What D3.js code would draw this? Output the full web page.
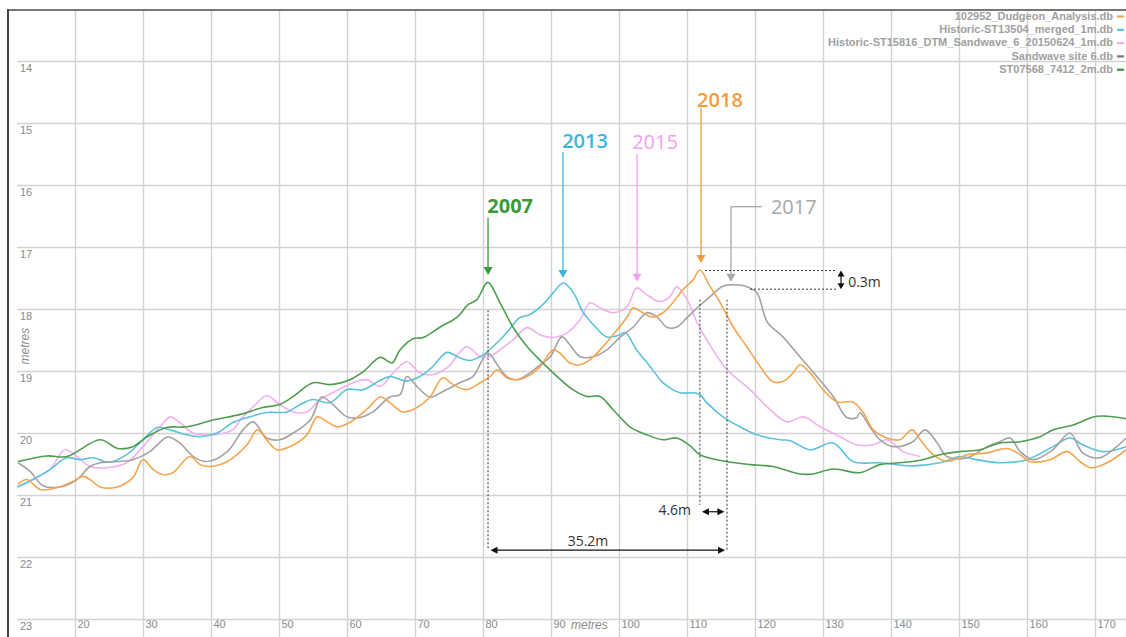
<!DOCTYPE html>
<html><head><meta charset="utf-8">
<script src="https://cdn.jsdelivr.net/npm/d3@7"></script>
<style>
html,body{margin:0;padding:0;background:#fff;}
svg{display:block;}
</style></head>
<body><svg id="c" width="1126" height="637"></svg>
<script>
// ---------- data ----------
const xTickValues = [20,30,40,50,60,70,80,90,100,110,120,130,140,150,160,170];
const yTickValues = [14,15,16,17,18,19,20,21,22,23];
const legendNames = ["102952_Dudgeon_Analysis.db","Historic-ST13504_merged_1m.db","Historic-ST15816_DTM_Sandwave_6_20150624_1m.db","Sandwave site 6.db","ST07568_7412_2m.db"];
const yearLabels = ["2018","2013","2015","2017","2007"];

const dudgeon2018 = [[11.6,20.83],[12.9,20.75],[14.9,20.91],[17.4,20.88],[19.7,20.78],[21.2,20.70],[22.2,20.75],[23.7,20.87],[26.2,20.87],[28.5,20.72],[30.0,20.43],[31.5,20.59],[32.9,20.67],[34.4,20.64],[36.9,20.38],[38.4,20.51],[39.9,20.54],[42.4,20.46],[45.3,20.19],[46.8,19.95],[48.2,20.11],[49.7,20.27],[51.6,20.22],[54.1,20.03],[55.6,19.74],[57.1,19.82],[58.5,19.90],[60.4,19.83],[62.9,19.62],[64.9,19.42],[66.3,19.51],[68.2,19.66],[70.3,19.59],[72.2,19.42],[74.1,19.11],[75.6,19.22],[77.6,19.30],[79.6,19.19],[81.0,19.09],[82.1,18.98],[83.5,19.11],[85.0,19.14],[86.5,19.09],[88.4,18.93],[90.3,18.66],[91.3,18.71],[92.8,18.87],[94.3,18.90],[95.7,18.82],[97.2,18.66],[99.1,18.42],[101.2,18.13],[102.1,17.98],[103.5,18.06],[105.0,18.13],[106.5,18.06],[107.9,17.90],[109.4,17.69],[110.9,17.53],[111.9,17.37],[113.4,17.64],[114.9,17.90],[116.8,18.29],[118.8,18.61],[120.7,18.92],[122.6,19.17],[124.1,19.17],[125.6,19.03],[126.6,18.90],[128.1,19.03],[130.0,19.30],[132.1,19.50],[134.4,19.50],[135.9,19.67],[137.4,19.95],[139.4,20.08],[141.3,20.11],[143.1,19.95],[144.3,20.11],[146.2,20.35],[148.2,20.46],[151.2,20.35],[154.1,20.32],[157.1,20.25],[159.0,20.35],[160.4,20.46],[163.4,20.43],[165.9,20.30],[167.8,20.46],[169.3,20.56],[171.8,20.48],[174.6,20.27]];

const merged2013 = [[11.5,20.87],[13.8,20.75],[16.3,20.59],[18.8,20.40],[20.7,20.43],[22.6,20.40],[25.1,20.47],[27.6,20.35],[30.0,20.11],[32.1,19.91],[34.0,19.95],[36.5,20.03],[38.4,20.06],[40.9,20.00],[43.2,19.83],[45.7,19.74],[48.2,19.67],[51.2,19.66],[53.1,19.54],[55.0,19.46],[57.5,19.51],[60.0,19.30],[62.4,19.30],[64.9,19.15],[66.3,19.09],[68.8,19.16],[70.7,19.09],[72.6,18.93],[74.7,18.70],[76.6,18.79],[78.1,18.83],[80.0,18.74],[82.1,18.54],[83.5,18.38],[85.4,18.14],[86.9,18.09],[88.8,17.93],[90.3,17.74],[91.8,17.58],[93.2,17.72],[94.7,18.05],[96.2,18.25],[98.2,18.45],[100.1,18.42],[100.9,18.38],[102.6,18.66],[104.6,18.93],[106.5,19.19],[109.0,19.35],[110.9,19.35],[111.9,19.38],[112.9,19.51],[115.3,19.74],[117.8,19.90],[120.3,20.03],[123.7,20.11],[125.1,20.12],[128.1,20.27],[131.5,20.16],[134.4,20.46],[138.4,20.48],[143.2,20.53],[147.2,20.48],[150.1,20.38],[152.6,20.43],[156.0,20.48],[160.0,20.43],[163.8,20.22],[166.3,20.08],[168.2,20.19],[171.2,20.30],[174.6,20.22]];

const sandwave2015 = [[11.6,20.87],[13.8,20.75],[16.3,20.59],[18.5,20.27],[20.3,20.38],[22.2,20.54],[24.7,20.56],[27.6,20.48],[30.0,20.22],[32.5,19.90],[34.0,19.74],[35.4,19.83],[37.4,20.00],[40.3,20.03],[43.2,19.95],[44.3,19.79],[46.2,19.58],[48.2,19.40],[50.1,19.54],[52.1,19.66],[54.1,19.66],[56.0,19.46],[57.9,19.35],[60.9,19.19],[62.9,19.14],[64.9,19.25],[66.8,19.03],[68.8,18.85],[70.7,19.03],[72.6,19.06],[74.7,18.95],[77.6,18.61],[79.6,18.77],[81.0,18.77],[82.5,18.66],[84.4,18.50],[86.5,18.30],[88.4,18.42],[90.3,18.46],[92.4,18.38],[94.3,18.17],[95.7,17.90],[97.2,17.98],[99.1,18.06],[101.2,17.96],[102.6,17.66],[104.1,17.77],[106.0,17.88],[107.5,17.80],[108.5,17.64],[110.0,17.85],[111.5,18.22],[113.4,18.59],[115.9,18.98],[119.3,19.30],[121.8,19.58],[124.7,19.82],[127.1,19.74],[129.6,19.90],[132.5,20.06],[135.0,20.19],[137.4,20.19],[139.4,20.11],[141.8,20.30],[144.3,20.38]];

const site2017 = [[11.6,20.48],[13.4,20.62],[15.3,20.85],[17.8,20.87],[20.3,20.75],[22.2,20.54],[23.7,20.48],[26.2,20.46],[28.5,20.43],[31.0,20.30],[32.9,20.11],[33.7,20.06],[35.4,20.16],[37.4,20.38],[39.4,20.46],[42.4,20.30],[44.7,19.95],[46.2,19.82],[48.2,20.08],[50.1,20.11],[52.1,20.00],[54.6,19.79],[56.3,19.42],[57.9,19.54],[60.0,19.74],[61.9,19.75],[63.8,19.66],[66.3,19.42],[67.8,19.38],[68.8,19.09],[70.3,19.25],[72.2,19.42],[74.1,19.33],[76.6,19.19],[78.5,19.09],[80.7,18.71],[82.1,18.90],[83.5,19.09],[85.0,19.14],[86.5,19.06],[88.4,18.90],[89.9,18.77],[91.6,18.45],[92.8,18.58],[94.3,18.77],[96.2,18.77],[98.2,18.66],[100.1,18.46],[102.1,18.29],[104.1,18.06],[105.6,18.13],[107.1,18.30],[108.5,18.29],[110.0,18.14],[111.5,17.98],[113.4,17.80],[115.3,17.63],[116.8,17.61],[118.8,17.64],[120.3,17.74],[121.8,18.21],[124.1,18.45],[126.6,18.77],[129.1,19.09],[131.5,19.41],[133.5,19.75],[135.0,19.75],[135.4,19.67],[136.9,19.90],[138.4,20.11],[140.3,20.22],[143.2,20.14],[145.0,19.95],[146.8,20.16],[148.2,20.38],[151.2,20.40],[154.1,20.22],[156.0,20.14],[157.5,20.08],[159.0,20.30],[160.9,20.43],[163.8,20.27],[166.3,20.00],[168.2,20.32],[170.7,20.40],[173.2,20.22],[174.6,20.08]];

const st2007 = [[11.6,20.46],[15.9,20.37],[18.8,20.38],[23.7,20.11],[26.3,20.25],[28.5,20.22],[30.6,20.06],[33.5,19.91],[36.5,19.90],[40.3,19.79],[44.3,19.70],[47.6,19.59],[50.1,19.54],[52.1,19.41],[55.0,19.19],[57.5,19.22],[60.4,19.14],[62.5,19.00],[64.9,18.78],[66.6,18.87],[67.8,18.66],[69.7,18.48],[71.2,18.46],[73.7,18.29],[76.2,18.13],[77.8,17.93],[79.1,17.85],[80.7,17.57],[82.5,17.90],[84.4,18.29],[86.5,18.61],[88.8,18.87],[90.9,19.09],[93.2,19.30],[95.3,19.41],[97.2,19.41],[99.1,19.62],[101.6,19.90],[104.1,20.03],[106.5,20.11],[108.5,20.08],[110.4,20.20],[111.9,20.35],[115.8,20.46],[119.3,20.51],[122.6,20.54],[126.6,20.66],[128.5,20.66],[131.5,20.58],[135.4,20.64],[138.4,20.51],[141.3,20.48],[144.3,20.44],[147.2,20.35],[150.1,20.30],[153.1,20.27],[156.0,20.16],[159.0,20.14],[161.9,20.06],[163.8,19.95],[166.8,19.87],[170.3,19.73],[174.6,19.77]];

const seriesData = [dudgeon2018, merged2013, sandwave2015, site2017, st2007];
const colors = ["#f5a450","#5cc2dc","#f0b0ee","#a3a3a3","#4f9d4f"];
const legendColors = ["#f5a450","#5cc2dc","#f0b0ee","#777777","#3f8f3f"];
const textColors = ["#f39a3c","#3cb6e0","#f2a0ee","#a8a8a8","#3a9a3a"];

// ---------- layout ----------
const W = 1126, H = 637;
const svg = d3.select("#c");
const x = d3.scaleLinear().domain([20,170]).range([75,1095]);
const y = d3.scaleLinear().domain([14,23]).range([61,619]);
const FONT = "'Liberation Sans', Arial, sans-serif";

svg.append("rect").attr("width",W).attr("height",H).attr("fill","#fff");

// vertical grid + x labels
const gx = svg.append("g").attr("transform",`translate(0,${H})`)
  .call(d3.axisTop(x).tickValues(xTickValues).tickSize(H-10).tickFormat(d3.format("d")));
gx.select(".domain").remove();
gx.selectAll(".tick line").attr("stroke","#d2d2d2").attr("stroke-width",1.4);
gx.selectAll(".tick text").attr("x",2).attr("y",-13).attr("dy","0.35em")
  .attr("text-anchor","start").attr("fill","#8a8a8a")
  .style("font-family",FONT).style("font-size","11px");

// horizontal grid + y labels
const gy = svg.append("g").attr("transform","translate(17,0)")
  .call(d3.axisRight(y).tickValues(yTickValues).tickSize(W-17).tickFormat(d3.format("d")));
gy.select(".domain").remove();
gy.selectAll(".tick line").attr("stroke","#d2d2d2").attr("stroke-width",1.4);
gy.selectAll(".tick text").attr("x",3).attr("y",7).attr("dy","0.35em")
  .attr("text-anchor","start").attr("fill","#8a8a8a")
  .style("font-family",FONT).style("font-size","11px");

// axis titles
svg.append("text").attr("x",571).attr("y",y(23)+6).attr("dy","0.35em")
  .attr("fill","#8a8a8a").style("font-family",FONT).style("font-size","12px").style("font-style","italic")
  .text("metres");
svg.append("text").attr("transform",`translate(25,${y(18.6)}) rotate(-90)`).attr("text-anchor","middle")
  .attr("dy","0.35em").attr("fill","#8a8a8a").style("font-family",FONT).style("font-size","12px").style("font-style","italic")
  .text("metres");

// frame
svg.append("line").attr("x1",8).attr("x2",W).attr("y1",10).attr("y2",10).attr("stroke","#777").attr("stroke-width",2);
svg.append("line").attr("x1",8).attr("x2",8).attr("y1",9).attr("y2",H).attr("stroke","#444").attr("stroke-width",2);

// clip
svg.append("clipPath").attr("id","clip").append("rect").attr("x",10).attr("y",11).attr("width",W-10).attr("height",H-11);

// lines
const line = d3.line().x(d=>x(d[0])).y(d=>y(d[1])).curve(d3.curveCatmullRom.alpha(0.5));
const lg = svg.append("g").attr("clip-path","url(#clip)");
[2,1,3,0,4].forEach(i=>{
  lg.append("path").datum(seriesData[i]).attr("d",line).attr("fill","none")
    .attr("stroke",colors[i]).attr("stroke-width",1.6).attr("stroke-linejoin","round");
});

// legend
const leg = svg.append("g");
legendNames.forEach((n,i)=>{
  const ly = 16 + i*13.3;
  leg.append("text").attr("x",1113).attr("y",ly).attr("dy","0.35em").attr("text-anchor","end")
    .attr("fill","#a0a0a0").style("font-family",FONT).style("font-size","11px").style("font-weight","bold").text(n);
  leg.append("line").attr("x1",1117).attr("x2",1124).attr("y1",ly+0.5).attr("y2",ly+0.5)
    .attr("stroke",legendColors[i]).attr("stroke-width",2.2);
});

// ---------- annotations ----------
const ann = svg.append("g");
function downArrow(cx, topY, tipY, color){
  const X = x(cx), T = y(topY), P = y(tipY);
  ann.append("line").attr("x1",X).attr("x2",X).attr("y1",T).attr("y2",P-6).attr("stroke",color).attr("stroke-width",1.3);
  ann.append("path").attr("d",`M${X-4.5},${P-8}L${X+4.5},${P-8}L${X},${P}Z`).attr("fill",color);
}
function yearText(cx, cy, t, color, w){
  ann.append("text").attr("x",x(cx)).attr("y",y(cy)).attr("dy","0.35em").attr("text-anchor","middle")
    .attr("fill",color).style("font-family","'Open Sans', sans-serif").style("font-size","20px").style("font-weight",w).text(t);
}
// 2007
downArrow(80.74,16.53,17.45,textColors[4]); yearText(84.0,16.34,yearLabels[4],textColors[4],700);
// 2013
downArrow(91.76,15.47,17.50,textColors[1]); yearText(95.0,15.29,yearLabels[1],textColors[1],600);
// 2015
downArrow(102.65,15.50,17.56,textColors[2]); yearText(105.3,15.31,yearLabels[2],textColors[2],500);
// 2018
downArrow(112.06,14.76,17.26,textColors[0]); yearText(114.85,14.63,yearLabels[0],textColors[0],600);
// 2017
downArrow(116.47,16.35,17.56,textColors[3]);
ann.append("line").attr("x1",x(116.47)).attr("x2",x(121.0)).attr("y1",y(16.35)).attr("y2",y(16.35)).attr("stroke",textColors[3]).attr("stroke-width",1.3);
yearText(125.7,16.35,yearLabels[3],textColors[3],500);

// dimension lines
function dotted(x1,y1,x2,y2){
  ann.append("line").attr("x1",x(x1)).attr("x2",x(x2)).attr("y1",y(y1)).attr("y2",y(y2))
    .attr("stroke","#333").attr("stroke-width",1).attr("stroke-dasharray","2,2");
}
dotted(112.65,17.38,132.06,17.38);
dotted(119.26,17.68,132.06,17.68);
dotted(80.74,18.02,80.74,21.89);
dotted(111.9,17.85,111.9,21.16);
dotted(115.88,17.85,115.88,21.89);

function hArrow(xa, xb, yy){
  const A = x(xa), B = x(xb), Y = y(yy);
  ann.append("line").attr("x1",A+5).attr("x2",B-5).attr("y1",Y).attr("y2",Y).attr("stroke","#111").attr("stroke-width",1.2);
  ann.append("path").attr("d",`M${A},${Y}L${A+7},${Y-3.5}L${A+7},${Y+3.5}Z`).attr("fill","#111");
  ann.append("path").attr("d",`M${B},${Y}L${B-7},${Y-3.5}L${B-7},${Y+3.5}Z`).attr("fill","#111");
}
function vArrow(xx, ya, yb){
  const X = x(xx), A = y(ya), B = y(yb);
  ann.append("line").attr("x1",X).attr("x2",X).attr("y1",A+4).attr("y2",B-4).attr("stroke","#111").attr("stroke-width",1.2);
  ann.append("path").attr("d",`M${X},${A}L${X-3.5},${A+6}L${X+3.5},${A+6}Z`).attr("fill","#111");
  ann.append("path").attr("d",`M${X},${B}L${X-3.5},${B-6}L${X+3.5},${B-6}Z`).attr("fill","#111");
}
vArrow(132.65,17.38,17.68);
hArrow(112.2,115.5,21.27);
hArrow(81.1,115.6,21.89);

function dimText(cx, cy, t, anchor){
  ann.append("text").attr("x",x(cx)).attr("y",y(cy)).attr("dy","0.35em").attr("text-anchor",anchor)
    .attr("fill","#333").style("font-family","'Open Sans', sans-serif").style("font-size","14px").text(t);
}
dimText(133.7,17.56,"0.3m","start");
dimText(108.2,21.24,"4.6m","middle");
dimText(95.44,21.74,"35.2m","middle");
</script>
</body></html>
